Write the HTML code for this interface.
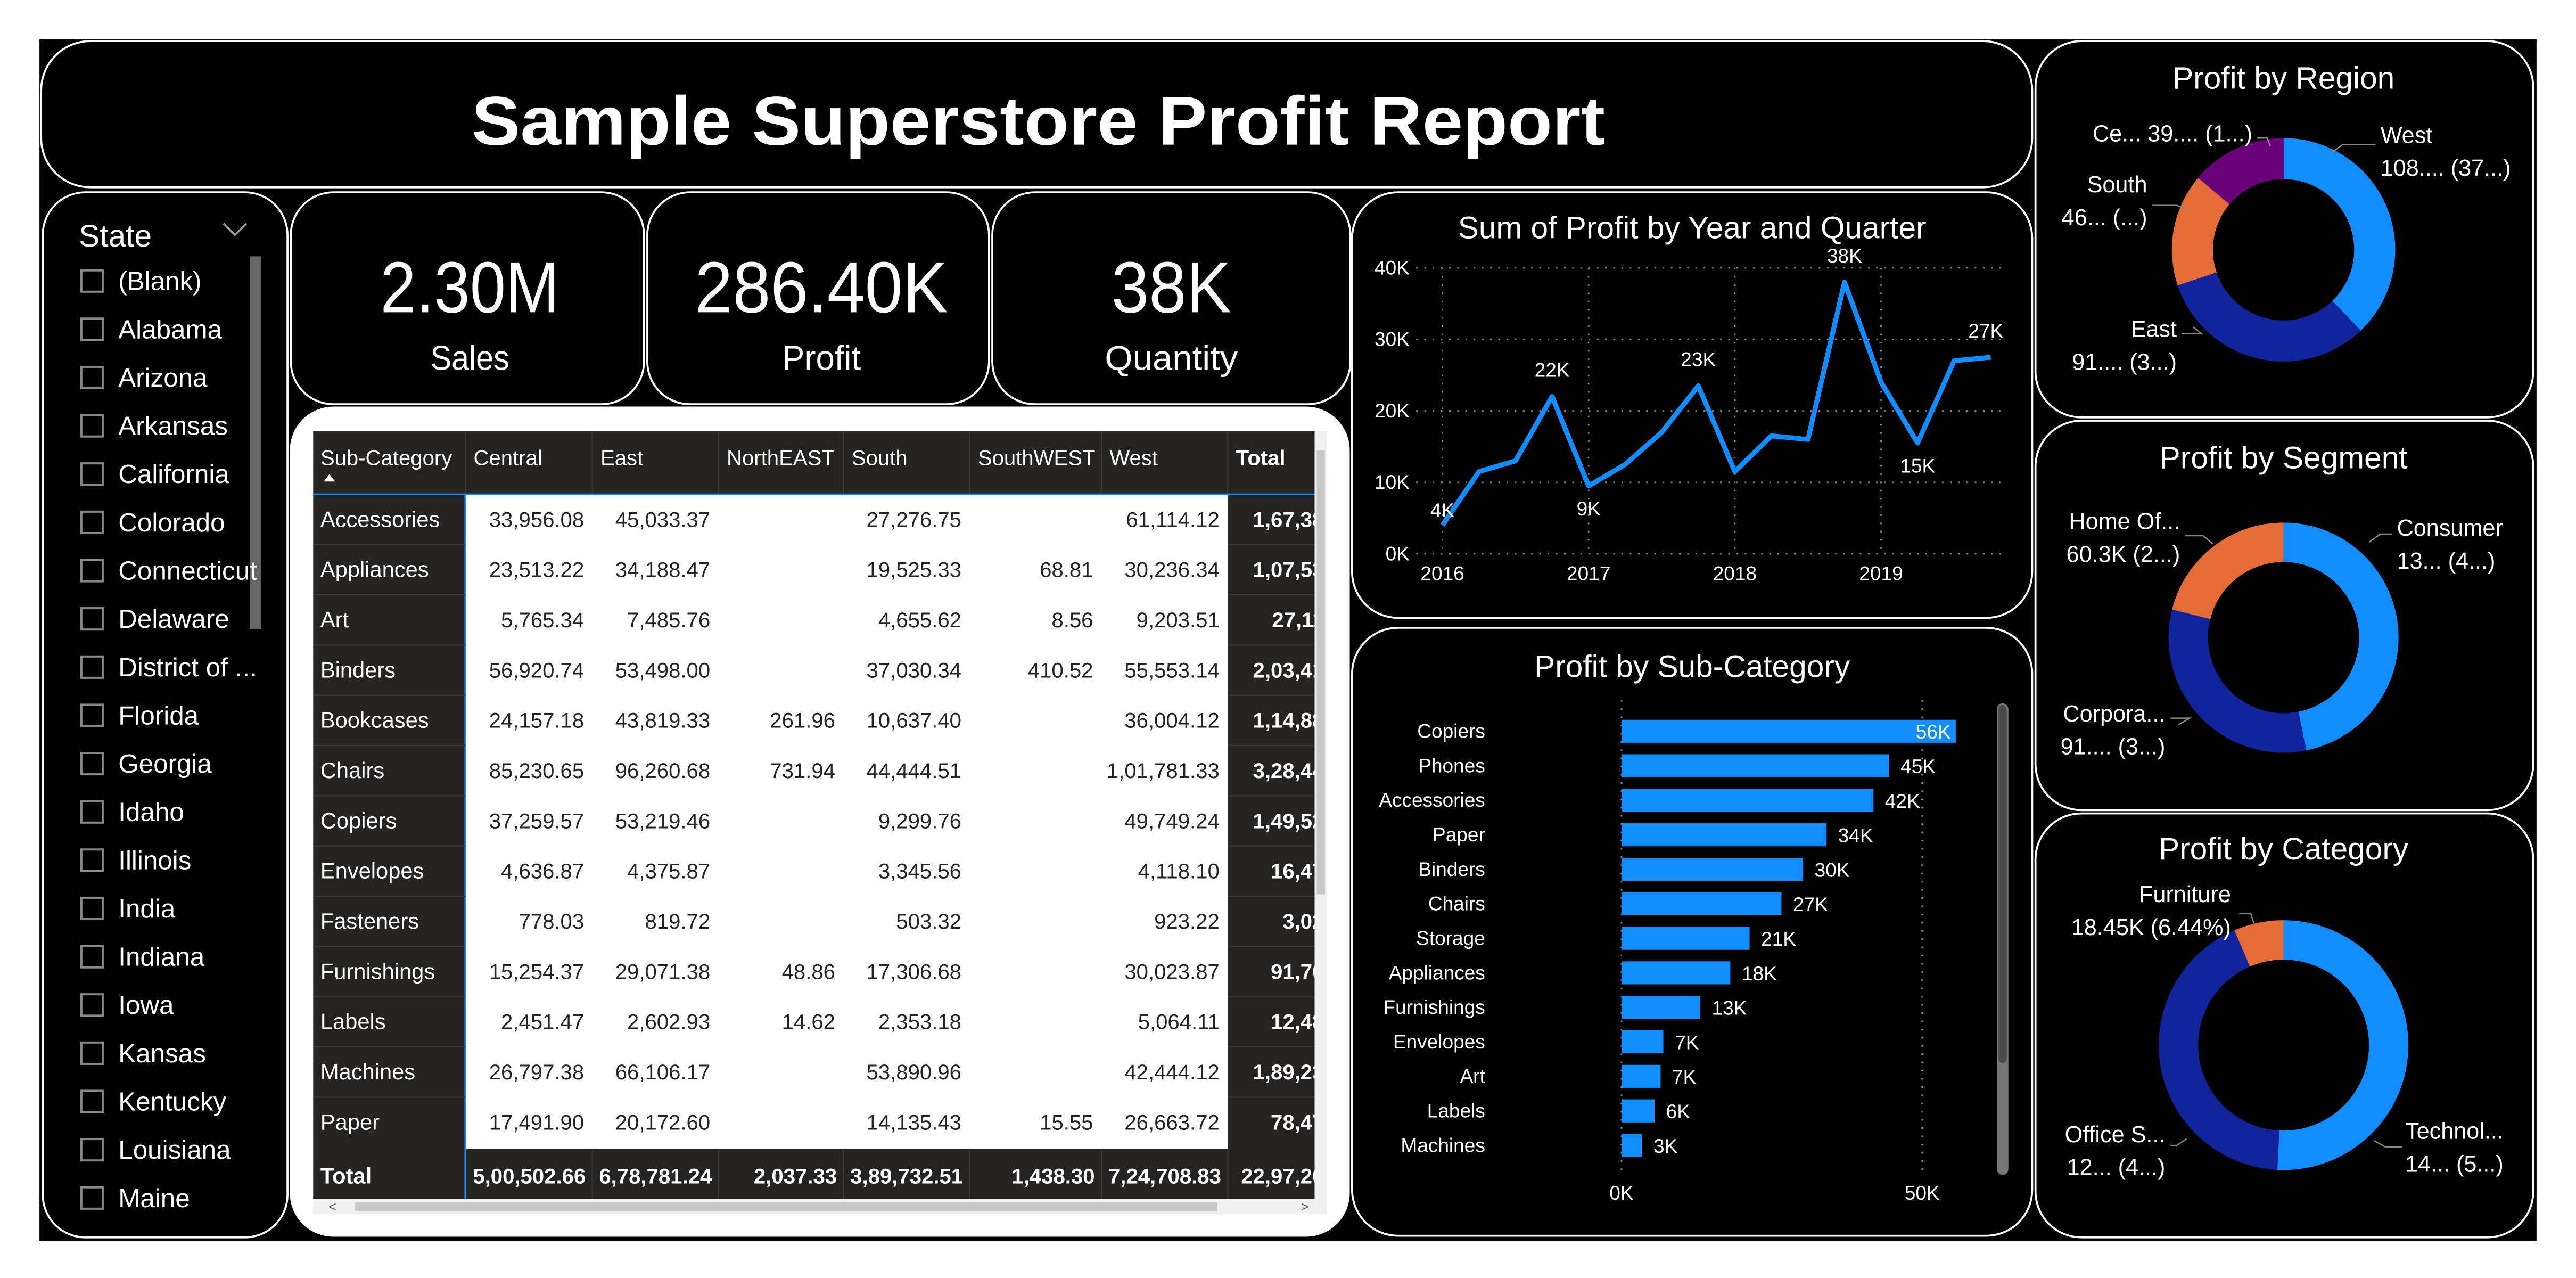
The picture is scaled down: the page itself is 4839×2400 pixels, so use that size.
<!DOCTYPE html>
<html><head><meta charset="utf-8">
<style>
html,body{margin:0;padding:0;background:#fff;}
svg{display:block;}
text{font-family:"Liberation Sans",sans-serif;}
</style></head>
<body>
<svg id="root" width="4839" height="2400" viewBox="0 0 1568 777.7" xmlns="http://www.w3.org/2000/svg">
<defs><clipPath id="tclip"><rect x="190" y="255" width="610.2" height="490"/></clipPath></defs>
<rect x="0" y="0" width="1568" height="777.7" fill="#fff"/>
<rect x="24" y="24" width="1520" height="731" fill="#000"/>
<g id="panels"></g>
<g id="content"></g>
</svg>
<script>
// ---------- DATA ----------
const lineLabels = ["2016","2017","2018","2019"];
const lineValues = [4, 11.5, 13, 22, 9.5, 12.5, 17, 23.5, 11.5, 16.5, 16, 38, 24, 15.5, 27, 27.5];
const lineDataLabels = ["4K","","","22K","9K","","","23K","","","","38K","","15K","","27K"];
const lineYTicks = [0, 10, 20, 30, 40];

const barCategories = ["Copiers","Phones","Accessories","Paper","Binders","Chairs","Storage","Appliances","Furnishings","Envelopes","Art","Labels","Machines"];
const barValues = [55.6, 44.5, 41.9, 34.1, 30.2, 26.6, 21.3, 18.1, 13.1, 6.96, 6.5, 5.5, 3.4];
const barLabels = ["56K","45K","42K","34K","30K","27K","21K","18K","13K","7K","7K","6K","3K"];
const barTicks = [0, 50];

const regionNames = ["West","East","South","Central"];
const regionValues = [108.4, 91.5, 46.7, 39.7];
const segmentNames = ["Consumer","Corporate","Home Office"];
const segmentValues = [134.1, 91.9, 60.3];
const categoryNames = ["Technology","Office Supplies","Furniture"];
const categoryValues = [145.5, 122.5, 18.45];

const states = ["(Blank)","Alabama","Arizona","Arkansas","California","Colorado","Connecticut","Delaware","District of ...","Florida","Georgia","Idaho","Illinois","India","Indiana","Iowa","Kansas","Kentucky","Louisiana","Maine"];

const tableCols = ["Central","East","NorthEAST","South","SouthWEST","West","Total"];
const tableRows = ["Accessories","Appliances","Art","Binders","Bookcases","Chairs","Copiers","Envelopes","Fasteners","Furnishings","Labels","Machines","Paper"];
const tableData = [
["33,956.08","45,033.37","","27,276.75","","61,114.12","1,67,38"],
["23,513.22","34,188.47","","19,525.33","68.81","30,236.34","1,07,53"],
["5,765.34","7,485.76","","4,655.62","8.56","9,203.51","27,11"],
["56,920.74","53,498.00","","37,030.34","410.52","55,553.14","2,03,41"],
["24,157.18","43,819.33","261.96","10,637.40","","36,004.12","1,14,88"],
["85,230.65","96,260.68","731.94","44,444.51","","1,01,781.33","3,28,44"],
["37,259.57","53,219.46","","9,299.76","","49,749.24","1,49,52"],
["4,636.87","4,375.87","","3,345.56","","4,118.10","16,47"],
["778.03","819.72","","503.32","","923.22","3,02"],
["15,254.37","29,071.38","48.86","17,306.68","","30,023.87","91,70"],
["2,451.47","2,602.93","14.62","2,353.18","","5,064.11","12,48"],
["26,797.38","66,106.17","","53,890.96","","42,444.12","1,89,23"],
["17,491.90","20,172.60","","14,135.43","15.55","26,663.72","78,47"]];
const tableTotals = ["5,00,502.66","6,78,781.24","2,037.33","3,89,732.51","1,438.30","7,24,708.83","22,97,20"];

// ---------- HELPERS ----------
const NS = "http://www.w3.org/2000/svg";
const panels = document.getElementById('panels');
const content = document.getElementById('content');
function mk(tag, attrs, parent, txt){
  const e = document.createElementNS(NS, tag);
  for (const k in attrs) e.setAttribute(k, attrs[k]);
  if (txt !== undefined) e.textContent = txt;
  (parent || content).appendChild(e);
  return e;
}

// ---------- PANELS ----------
function panel(name, x, y, w, h, r, fill){
  const p = mk('rect', {x:x, y:y, width:w, height:h, rx:r, ry:r, fill:fill||'#000', stroke:'#fff', 'stroke-width':1.2}, panels);
  
  
  return p;
}
panel('title-panel', 25, 25, 1212, 89, 30);
panel('state-slicer-panel', 26, 117, 149, 636, 26);
panel('sales-card', 177, 117, 215, 129, 26);
panel('profit-card', 394, 117, 208, 129, 26);
panel('quantity-card', 604, 117, 218, 129, 26);
panel('table-card', 177, 248, 644, 504, 26, '#fff');
panel('line-chart-panel', 823, 117, 414, 259, 28);
panel('bar-chart-panel', 823, 382, 414, 370, 28);
panel('region-panel', 1239, 25, 303, 229, 28);
panel('segment-panel', 1239, 256, 303, 237, 28);
panel('category-panel', 1239, 495, 303, 258, 28);

// ---------- TITLE ----------
let t = mk('text', {x:632, y:88, 'text-anchor':'middle', 'font-size':42, 'font-weight':'bold', fill:'#fff', textLength:690, lengthAdjust:'spacingAndGlyphs'}, content, 'Sample Superstore Profit Report');



// ---------- KPI ----------
function kpi(name, cx, val, vw, label, lw){
  const v = mk('text', {x:cx, y:190, 'text-anchor':'middle', 'font-size':44, fill:'#fff', textLength:vw, lengthAdjust:'spacingAndGlyphs'}, content, val);
  
  
  const l = mk('text', {x:cx, y:225, 'text-anchor':'middle', 'font-size':21, fill:'#fff', textLength:lw, lengthAdjust:'spacingAndGlyphs'}, content, label);
  
  
}
kpi('sales-kpi', 286, '2.30M', 109, 'Sales', 48);
kpi('profit-kpi', 500, '286.40K', 154, 'Profit', 48);
kpi('quantity-kpi', 713, '38K', 73, 'Quantity', 81);

// ---------- STATE SLICER ----------
t = mk('text', {x:48, y:150, 'font-size':19, fill:'#fff'}, content, 'State');


t = mk('path', {d:'M136 136 L143 143 L150 136', fill:'none', stroke:'#999', 'stroke-width':1.2});


t = mk('rect', {x:152, y:156, width:7, height:227, fill:'#666'});


states.forEach((s, i) => {
  const y = 171 + i * 29.37;
  const g = mk('g', {});
  
  
  mk('rect', {x:49.5, y:y-6.5, width:13, height:13, fill:'none', stroke:'#888', 'stroke-width':1.3}, g);
  mk('text', {x:72, y:y+5.5, 'font-size':16, fill:'#fff'}, g, s);
});

// ---------- TABLE ----------
const colX = [190.6, 283.2, 360.5, 437.3, 513.4, 590.2, 670.4, 747.3, 800.2];
const hdrTop = 262.2, hdrBot = 300.8, rowH = 30.57, totTop = 699.2, totBot = 729.6;
const tblOuter = mk('g', {});


const tbl = mk('g', {'clip-path':'url(#tclip)'}, tblOuter);
mk('rect', {x:190.6, y:hdrTop, width:609.6, height:totBot-hdrTop, fill:'#252423'}, tbl);
mk('rect', {x:283.2, y:hdrBot, width:464.1, height:totTop-hdrBot, fill:'#fff'}, tbl);
for (let c = 1; c < 8; c++) {
  mk('line', {x1:colX[c], y1:hdrTop, x2:colX[c], y2:hdrBot, stroke:'#3b3a39', 'stroke-width':0.7}, tbl);
  mk('line', {x1:colX[c], y1:totTop, x2:colX[c], y2:totBot, stroke:'#3b3a39', 'stroke-width':0.7}, tbl);
}
mk('line', {x1:283.2, y1:hdrBot, x2:283.2, y2:totBot, stroke:'#118DFF', 'stroke-width':1}, tbl);
mk('line', {x1:190.6, y1:hdrBot, x2:800.2, y2:hdrBot, stroke:'#118DFF', 'stroke-width':1}, tbl);
for (let r = 1; r < tableRows.length; r++) {
  const y = hdrBot + r * rowH;
  mk('line', {x1:190.6, y1:y, x2:283.2, y2:y, stroke:'#3b3a39', 'stroke-width':0.7}, tbl);
  mk('line', {x1:747.3, y1:y, x2:800.2, y2:y, stroke:'#3b3a39', 'stroke-width':0.7}, tbl);
}
mk('text', {x:195, y:283, 'font-size':13, fill:'#fff'}, tbl, 'Sub-Category');
mk('path', {d:'M197 293 L200.5 288.5 L204 293 Z', fill:'#fff'}, tbl);
tableCols.forEach((c, i) => {
  const h = mk('text', {x:colX[i+1]+5, y:283, 'font-size':13, fill:'#fff', 'font-weight': c === 'Total' ? 'bold' : 'normal'}, tbl, c);
  
  
});
tableRows.forEach((rn, r) => {
  const y = hdrBot + r * rowH + rowH/2 + 4.5;
  mk('text', {x:195, y:y, 'font-size':13.5, fill:'#fff'}, tbl, rn);
  tableData[r].forEach((v, c) => {
    if (!v) return;
    const isTot = c === 6;
    mk('text', {x: isTot ? 806 : colX[c+2]-5, y:y, 'text-anchor':'end', 'font-size':13, fill: isTot ? '#fff' : '#252423', 'font-weight': isTot ? 'bold' : 'normal'}, tbl, v);
  });
});
mk('text', {x:195, y:totTop+21, 'font-size':13.5, fill:'#fff', 'font-weight':'bold'}, tbl, 'Total');
tableTotals.forEach((v, c) => {
  mk('text', {x: c === 6 ? 806 : colX[c+2]-4, y:totTop+21, 'text-anchor':'end', 'font-size':13, fill:'#fff', 'font-weight':'bold'}, tbl, v);
});
// scrollbars
mk('rect', {x:800.2, y:hdrTop, width:7.4, height:totBot-hdrTop, fill:'#f0f0f0'}, tblOuter);
mk('rect', {x:801.5, y:hdrTop+12, width:5, height:270, fill:'#c8c8c8'}, tblOuter);
mk('rect', {x:190.6, y:totBot, width:617, height:9.3, fill:'#f0f0f0'}, tblOuter);
mk('rect', {x:216, y:totBot+2, width:525, height:5.3, fill:'#c8c8c8'}, tblOuter);
mk('text', {x:200, y:totBot+7.5, 'font-size':8, fill:'#555'}, tblOuter, '<');
mk('text', {x:792, y:totBot+7.5, 'font-size':8, fill:'#555'}, tblOuter, '>');

// ---------- LINE CHART ----------
t = mk('text', {x:1030, y:145, 'text-anchor':'middle', 'font-size':19, fill:'#fff'}, content, 'Sum of Profit by Year and Quarter');


const lx0 = 878, lxStep = 22.25, ly0 = 337, ly40 = 163;
const lx = i => lx0 + i * lxStep;
const ly = v => ly0 - (v / 40) * (ly0 - ly40);
lineYTicks.forEach(v => {
  mk('line', {x1:862, y1:ly(v), x2:1222, y2:ly(v), stroke:'#888', 'stroke-width':0.9, 'stroke-dasharray':'1 4'});
  const tk = mk('text', {x:858, y:ly(v)+4, 'text-anchor':'end', 'font-size':12, fill:'#fff'}, content, v + 'K');
  
  
});
lineLabels.forEach((l, i) => {
  const x = lx(i * 4);
  mk('line', {x1:x, y1:ly40, x2:x, y2:ly0, stroke:'#888', 'stroke-width':0.9, 'stroke-dasharray':'1 4'});
  const tk = mk('text', {x:x, y:353, 'text-anchor':'middle', 'font-size':12, fill:'#fff'}, content, l);
  
  
});
const lp = mk('polyline', {points: lineValues.map((v, i) => lx(i) + ',' + ly(v)).join(' '), fill:'none', stroke:'#118DFF', 'stroke-width':3, 'stroke-linejoin':'round'});


lineDataLabels.forEach((l, i) => {
  if (!l) return;
  const v = lineValues[i];
  const prev = lineValues[i-1] === undefined ? v : lineValues[i-1];
  const next = lineValues[i+1] === undefined ? v : lineValues[i+1];
  const isMin = v <= prev && v <= next && i > 0;
  const y = (i === 0) ? ly(v) - 5 : (isMin ? ly(v) + 18 : ly(v) - 12);
  const d = mk('text', {x:lx(i) + (i === lineValues.length-1 ? -3 : 0), y:y, 'text-anchor':'middle', 'font-size':12, fill:'#fff'}, content, l);
  
  
});

// ---------- BAR CHART ----------
t = mk('text', {x:1030, y:412, 'text-anchor':'middle', 'font-size':19, fill:'#fff'}, content, 'Profit by Sub-Category');


const bx0 = 987, bx50 = 1170;
const bx = v => bx0 + (v / 50) * (bx50 - bx0);
const by = i => 445 + i * 21;
barTicks.forEach(v => {
  mk('line', {x1:bx(v), y1:426, x2:bx(v), y2:712, stroke:'#888', 'stroke-width':0.9, 'stroke-dasharray':'1 4'});
  const tk = mk('text', {x:bx(v), y:730, 'text-anchor':'middle', 'font-size':12, fill:'#fff'}, content, v + 'K');
  
  
});
barCategories.forEach((c, i) => {
  const lbl = mk('text', {x:904, y:by(i)+4, 'text-anchor':'end', 'font-size':12, fill:'#fff'}, content, c);
  
  
  const b = mk('rect', {x:bx0, y:by(i)-7, width:bx(barValues[i]) - bx0, height:14, fill:'#118DFF'});
  
  
  const inside = bx(barValues[i]) > 1180;
  const vl = mk('text', {x: inside ? bx(barValues[i]) - 3 : bx(barValues[i]) + 7, y:by(i)+4.5, 'text-anchor': inside ? 'end' : 'start', 'font-size':12, fill:'#fff'}, content, barLabels[i]);
  
  
});
t = mk('rect', {x:1215.5, y:428, width:7, height:287, rx:3.5, fill:'#777'});


mk('rect', {x:1216.5, y:429, width:5, height:218, rx:2.5, fill:'#4a4a4a'});

// ---------- DONUTS ----------
const colors = ['#118DFF', '#12239E', '#E66C37', '#6B007B'];
function donut(name, cx, cy, ro, ri, values, names){
  const g = mk('g', {});
  
  
  const total = values.reduce((a, b) => a + b, 0);
  let a0 = 0;
  values.forEach((v, i) => {
    const a1 = a0 + v / total * Math.PI * 2;
    const p = (a, r) => [cx + r * Math.sin(a), cy - r * Math.cos(a)];
    const [x1, y1] = p(a0, ro), [x2, y2] = p(a1, ro), [x3, y3] = p(a1, ri), [x4, y4] = p(a0, ri);
    const large = (a1 - a0) > Math.PI ? 1 : 0;
    const s = mk('path', {d:`M${x1} ${y1} A${ro} ${ro} 0 ${large} 1 ${x2} ${y2} L${x3} ${y3} A${ri} ${ri} 0 ${large} 0 ${x4} ${y4} Z`, fill:colors[i]}, g);
    
    
    a0 = a1;
  });
}
function dlabel(lines, x, y, anchor, lx1, ly1, lx2, ly2, lx3, ly3){
  mk('polyline', {points:`${lx1},${ly1} ${lx2},${ly2} ${lx3},${ly3}`, fill:'none', stroke:'#888', 'stroke-width':0.8});
  lines.forEach((l, i) => {
    const d = mk('text', {x:x, y:y + i * 20, 'text-anchor':anchor, 'font-size':14, fill:'#fff'}, content, l);
    
    
  });
}
function dtitle(txt, y, name){
  const d = mk('text', {x:1390, y:y, 'text-anchor':'middle', 'font-size':19, fill:'#fff'}, content, txt);
  
  
}
dtitle('Profit by Region', 54, 'region-chart-title');
donut('region-donut', 1390, 152, 68, 43, regionValues, regionNames);
dlabel(['West', '108.... (37...)'], 1449, 87, 'start', 1419, 93, 1426, 88, 1446, 88);
dlabel(['East', '91.... (3...)'], 1325, 205, 'end', 1335, 199, 1340, 203, 1328, 203);
dlabel(['South', '46... (...)'], 1307, 117, 'end', 1331, 127, 1325, 125, 1310, 125);
dlabel(['Ce... 39.... (1...)'], 1371, 86, 'end', 1382, 89, 1380, 84, 1374, 84);

dtitle('Profit by Segment', 285, 'segment-chart-title');
donut('segment-donut', 1390, 388, 70, 46, segmentValues, segmentNames);
dlabel(['Consumer', '13... (4...)'], 1459, 326, 'start', 1442, 330, 1449, 325, 1456, 325);
dlabel(['Corpora...', '91.... (3...)'], 1318, 439, 'end', 1326, 441, 1333, 437, 1321, 437);
dlabel(['Home Of...', '60.3K (2...)'], 1327, 322, 'end', 1347, 331, 1341, 326, 1330, 326);

dtitle('Profit by Category', 523, 'category-chart-title');
donut('category-donut', 1390, 636, 76, 52, categoryValues, categoryNames);
dlabel(['Technol...', '14... (5...)'], 1464, 693, 'start', 1445, 694, 1452, 698, 1462, 698);
dlabel(['Office S...', '12... (4...)'], 1318, 695, 'end', 1331, 693, 1325, 697, 1321, 697);
dlabel(['Furniture', '18.45K (6.44%)'], 1358, 549, 'end', 1372, 562, 1370, 556, 1363, 556);
</script>
</body></html>
